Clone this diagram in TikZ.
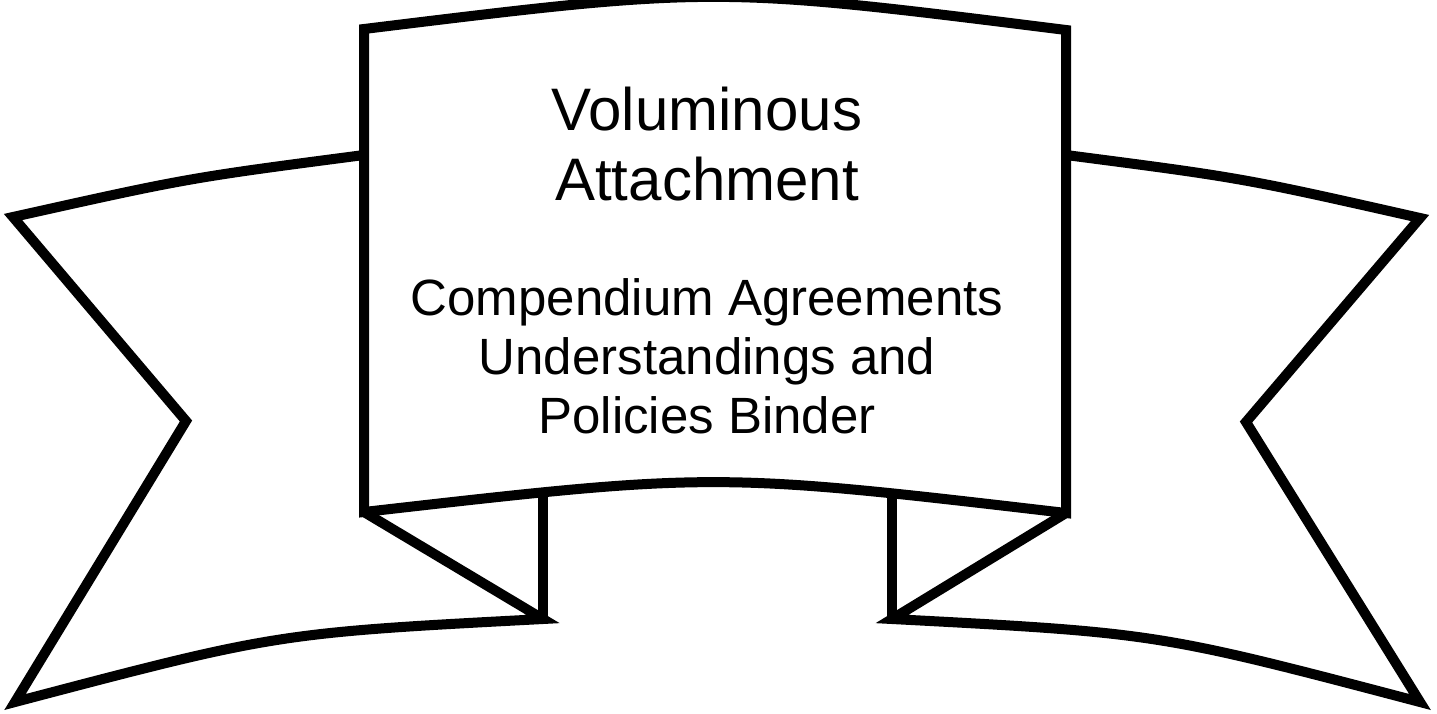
\documentclass[tikz,border=0pt]{standalone}
\usepackage{fontspec}
\setmainfont{Liberation Sans}
\begin{document}
\begin{tikzpicture}[x=1pt,y=-1pt,
  edge/.style={line width=10pt, line join=miter, miter limit=20, draw=black},
  titletext/.style={anchor=base, inner sep=0pt, font=\fontsize{60}{70}\selectfont},
  bodytext/.style={anchor=base, inner sep=0pt, font=\fontsize{51}{59}\selectfont}]
\useasboundingbox[fill=white] (0,0) rectangle (1437,713);
% named points
\coordinate (LBtop) at (364,155);
\coordinate (LTip) at (13,217);
\coordinate (LNotch) at (186,421);
\coordinate (LBot) at (15,702);
\coordinate (LFold) at (543,619);
\coordinate (LFoldTop) at (543,497);
\coordinate (RBtop) at (1066,155);
\coordinate (RTip) at (1420,218);
\coordinate (RNotch) at (1246,422);
\coordinate (RBot) at (1420,702);
\coordinate (RFold) at (892,619);
\coordinate (RFoldTop) at (892,497);
\coordinate (BoxTL) at (364,29);
\coordinate (BoxTR) at (1066,30);
\coordinate (BoxBL) at (364,512);
\coordinate (BoxBR) at (1066,513);
% left band
\draw[edge] (LBtop) .. controls (188,178) .. (LTip) -- (LNotch) -- (LBot)
  .. controls (277,633) .. (LFold) -- (BoxBL);
\draw[edge] (LFold) -- (LFoldTop);
% right band
\draw[edge] (RBtop) .. controls (1243,178) .. (RTip) -- (RNotch) -- (RBot)
  .. controls (1158,633) .. (RFold) -- (BoxBR);
\draw[edge] (RFold) -- (RFoldTop);
% main panel
\draw[edge] (BoxBL) -- (BoxTL) .. controls (715,-14) .. (BoxTR) -- (BoxBR)
  .. controls (715,472) .. cycle;
% text
\node[titletext] (t1) at (707,130) {Voluminous};
\node[titletext] (t2) at (707,200) {Attachment};
\node[bodytext] (b1) at (707,315) {Compendium Agreements};
\node[bodytext] (b2) at (707,374) {Understandings and};
\node[bodytext] (b3) at (707,433) {Policies Binder};
\end{tikzpicture}
\end{document}
